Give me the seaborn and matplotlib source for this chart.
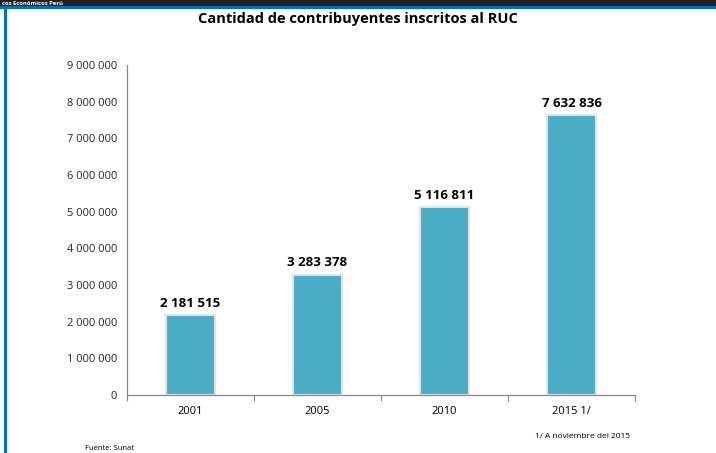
import matplotlib
matplotlib.use("Agg")
import matplotlib.pyplot as plt
import seaborn as sns
import pandas as pd
from matplotlib.ticker import FuncFormatter, FixedLocator
from matplotlib.patches import Rectangle

categories = ["2001", "2005", "2010", "2015 1/"]
values = [2181515, 3283378, 5116811, 7632836]
yticks = [0, 1000000, 2000000, 3000000, 4000000, 5000000, 6000000, 7000000, 8000000, 9000000]

sns.set_theme(style="white")
plt.rcParams['font.family'] = ['Open Sans', 'DejaVu Sans']

df = pd.DataFrame({"year": categories, "value": values})

fig = plt.figure(figsize=(7.16, 4.53), dpi=100)
ax = fig.add_axes([0.1774, 0.128, 0.7095, 0.7285])

sns.barplot(data=df, x="year", y="value", color="#4BACC6", width=0.39,
            saturation=1, edgecolor="#e2e2e2", linewidth=1.5, ax=ax)

def fmt(v):
    return f"{int(v):,}".replace(",", " ")

for i, v in enumerate(values):
    ax.text(i, v + 150000, fmt(v), ha="center", va="bottom",
            fontsize=9.5, fontweight="bold", color="black")

ax.set_ylim(0, 9000000)
ax.set_xlim(-0.5, 3.5)
ax.set_yticks(yticks)
ax.yaxis.set_major_formatter(FuncFormatter(lambda v, p: fmt(v)))
ax.xaxis.set_minor_locator(FixedLocator([-0.5, 0.5, 1.5, 2.5, 3.5]))
ax.tick_params(axis="x", which="major", length=0, labelsize=8, pad=8, colors="black")
ax.tick_params(axis="x", which="minor", length=4, width=0.8, color="#888888", direction="out", bottom=True)
ax.tick_params(axis="y", length=4, width=0.8, color="#888888", labelsize=8, direction="out", pad=3)
ax.set_xlabel("")
ax.set_ylabel("")
for s in ["top", "right"]:
    ax.spines[s].set_visible(False)
for s in ["left", "bottom"]:
    ax.spines[s].set_color("#888888")
    ax.spines[s].set_linewidth(0.9)

fig.text(0.5, 0.957, "Cantidad de contribuyentes inscritos al RUC", ha="center", va="center",
         fontsize=10.5, fontweight="bold", color="black")
fig.text(0.88, 0.037, "1/ A noviembre del 2015", ha="right", va="center", fontsize=6, color="black")
fig.text(0.119, 0.002, "Fuente: Sunat", ha="left", va="bottom", fontsize=5.5, color="black")

# header band and border
band_h = 6.5 / 453
fig.patches.append(Rectangle((0, 1 - band_h), 1, band_h, transform=fig.transFigure,
                             facecolor="#222222", edgecolor="none", zorder=5))
fig.patches.append(Rectangle((0, 1 - band_h - 2.5/453), 1, 2.5/453, transform=fig.transFigure,
                             facecolor="#0070C0", edgecolor="none", zorder=6))
fig.patches.append(Rectangle((4/716, 0), 2.5/716, 1 - band_h - 1/453, transform=fig.transFigure,
                             facecolor="#0070C0", edgecolor="none", zorder=6))
fig.text(0.003, 1 - band_h / 2, "cos Económicos Perú", ha="left", va="center",
         fontsize=4.2, fontweight="bold", color="white", zorder=7)

fig.savefig("out.png", dpi=100)
